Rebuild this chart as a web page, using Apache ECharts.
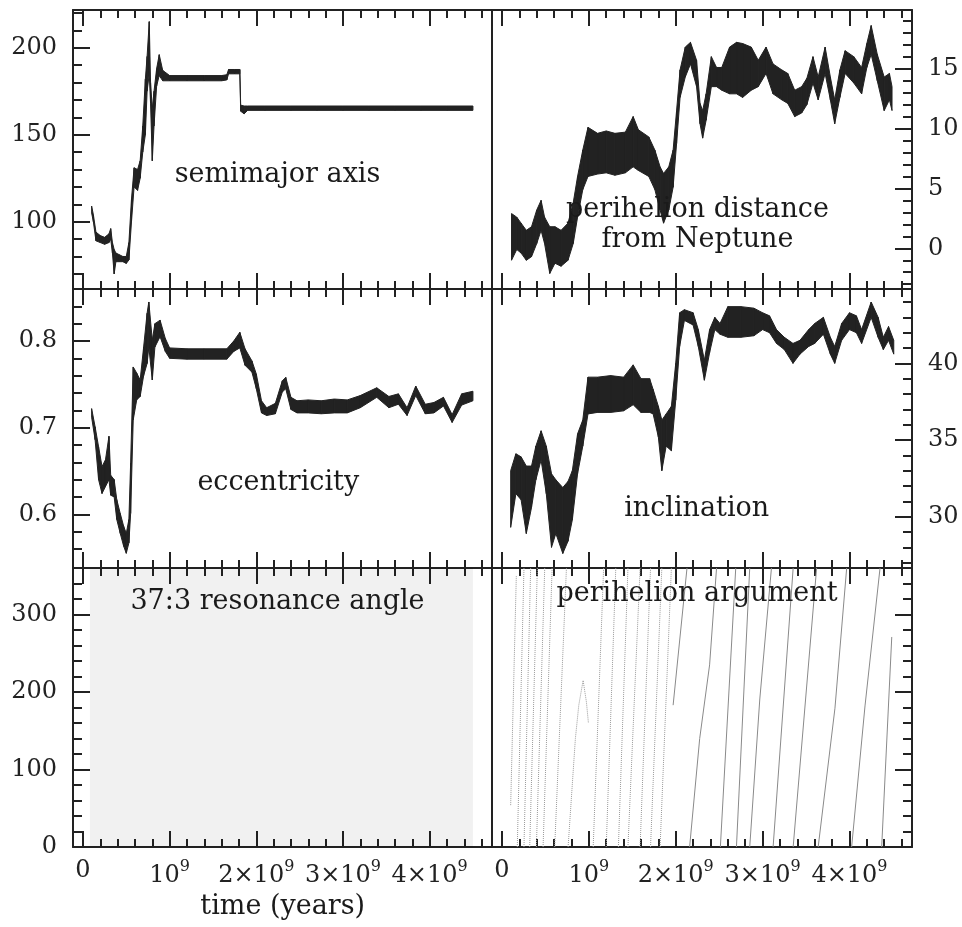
<!DOCTYPE html>
<html>
<head>
<meta charset="utf-8">
<script src="https://cdn.jsdelivr.net/npm/echarts@6.0.0/dist/echarts.min.js"></script>
<style>
  html, body { margin: 0; padding: 0; background: #fff; }
  #main { width: 962px; height: 927px; }
</style>
</head>
<body>
<div id="main"></div>
<script>
  // time is in units of 10^9 years
  var timeMajor = [0, 1, 2, 3, 4];
  var timeMinor = [0.2, 0.4, 0.6, 0.8, 1.2, 1.4, 1.6, 1.8, 2.2, 2.4, 2.6, 2.8, 3.2, 3.4, 3.6, 3.8, 4.2, 4.4, 4.6];

  // semimajor axis (AU): lower / upper edge of the noisy trace
  var semiT = [0.10, 0.12, 0.15, 0.20, 0.25, 0.30, 0.32, 0.34, 0.36, 0.38, 0.42, 0.46, 0.50, 0.53, 0.56, 0.59, 0.63, 0.66, 0.69, 0.72, 0.74, 0.765, 0.78, 0.80, 0.82, 0.85, 0.88, 0.92, 1.00, 1.20, 1.40, 1.60, 1.66, 1.68, 1.75, 1.81, 1.82, 1.86, 1.90, 2.10, 2.40, 2.70, 3.00, 3.30, 3.60, 3.90, 4.20, 4.50];
  var semiLo = [105, 100, 89, 88, 87, 88, 90, 82, 70, 77, 77, 77, 76, 78, 100, 120, 118, 125, 140, 150, 175, 185, 168, 135, 155, 178, 184, 181, 181, 181, 181, 181, 181.5, 185, 185, 185, 163.5, 162, 164, 164, 164, 164, 164, 164, 164, 164, 164, 164];
  var semiHi = [109, 104, 94, 92, 91, 93, 96, 88, 84, 82, 81, 80, 80, 88, 113, 131, 130, 135, 155, 182, 195, 215, 180, 165, 175, 188, 196, 187, 184, 184, 184, 184, 184.5, 187.5, 187.5, 187.5, 167, 166.5, 166.5, 166.5, 166.5, 166.5, 166.5, 166.5, 166.5, 166.5, 166.5, 166.5];
  var semiMajor = [100, 150, 200];
  var semiMinor = [70, 80, 90, 110, 120, 130, 140, 160, 170, 180, 190, 210, 220];

  // perihelion distance from Neptune (AU)
  var periT = [0.11, 0.17, 0.22, 0.28, 0.34, 0.40, 0.45, 0.49, 0.55, 0.61, 0.68, 0.76, 0.82, 0.87, 0.93, 0.99, 1.10, 1.20, 1.30, 1.42, 1.51, 1.57, 1.69, 1.76, 1.82, 1.86, 1.92, 1.97, 2.01, 2.05, 2.11, 2.17, 2.24, 2.28, 2.31, 2.35, 2.41, 2.47, 2.53, 2.62, 2.70, 2.77, 2.87, 2.95, 3.04, 3.12, 3.22, 3.29, 3.37, 3.45, 3.51, 3.58, 3.64, 3.72, 3.78, 3.83, 3.89, 3.95, 4.05, 4.14, 4.20, 4.25, 4.32, 4.40, 4.46, 4.49];
  var periLo = [-1.0, -0.1, -0.4, -1.0, -0.7, 0.4, 1.5, 0.4, -2.1, -1.25, -1.5, -1.0, 0.4, 2.6, 4.9, 6.0, 6.2, 6.3, 6.1, 6.3, 6.8, 6.5, 6.0, 4.9, 3.2, 2.1, 3.2, 5.1, 8.75, 12.6, 14.3, 15.4, 13.5, 10.4, 9.2, 10.7, 13.5, 13.5, 13.2, 12.9, 12.9, 12.6, 13.2, 13.5, 14.6, 12.9, 12.4, 12.1, 11.0, 11.3, 12.0, 13.8, 12.4, 14.6, 12.4, 10.4, 12.6, 14.6, 13.8, 12.9, 15.1, 16.2, 14.0, 11.5, 12.4, 11.5];
  var periHi = [2.9, 2.6, 2.1, 1.5, 1.8, 3.2, 4.0, 2.6, 1.8, 1.8, 1.5, 2.1, 3.8, 6.0, 8.2, 10.1, 9.6, 9.8, 9.6, 9.7, 11.0, 9.9, 9.3, 8.2, 6.8, 6.25, 6.8, 8.2, 11.5, 14.9, 16.8, 17.2, 15.7, 12.1, 11.5, 12.9, 16.0, 15.1, 15.1, 16.8, 17.2, 17.1, 16.8, 15.7, 16.8, 15.4, 14.9, 14.6, 13.2, 13.5, 14.2, 16.0, 14.3, 16.8, 14.3, 12.4, 14.9, 16.5, 16.0, 15.1, 17.1, 18.6, 16.2, 14.3, 14.6, 13.5];
  var periMajor = [0, 5, 10, 15];
  var periMinor = [-3, -2, -1, 1, 2, 3, 4, 6, 7, 8, 9, 11, 12, 13, 14, 16, 17, 18, 19];

  // eccentricity
  var eccT = [0.10, 0.14, 0.18, 0.22, 0.26, 0.30, 0.32, 0.36, 0.39, 0.43, 0.47, 0.50, 0.53, 0.55, 0.58, 0.62, 0.66, 0.70, 0.74, 0.76, 0.80, 0.83, 0.89, 0.95, 1.00, 1.20, 1.40, 1.66, 1.74, 1.81, 1.87, 1.95, 2.00, 2.06, 2.12, 2.22, 2.30, 2.34, 2.40, 2.47, 2.60, 2.75, 2.90, 3.05, 3.20, 3.39, 3.53, 3.64, 3.74, 3.84, 3.95, 4.05, 4.16, 4.26, 4.37, 4.50];
  var eccLo = [0.712, 0.686, 0.640, 0.624, 0.632, 0.640, 0.622, 0.620, 0.594, 0.578, 0.563, 0.555, 0.567, 0.601, 0.709, 0.732, 0.736, 0.760, 0.774, 0.793, 0.755, 0.793, 0.805, 0.788, 0.780, 0.779, 0.779, 0.779, 0.788, 0.792, 0.772, 0.764, 0.745, 0.717, 0.714, 0.716, 0.741, 0.745, 0.721, 0.717, 0.717, 0.716, 0.717, 0.717, 0.723, 0.735, 0.723, 0.727, 0.714, 0.737, 0.716, 0.717, 0.725, 0.706, 0.726, 0.731];
  var eccHi = [0.722, 0.701, 0.678, 0.655, 0.663, 0.690, 0.645, 0.640, 0.617, 0.601, 0.586, 0.578, 0.594, 0.659, 0.770, 0.763, 0.755, 0.793, 0.832, 0.845, 0.801, 0.820, 0.824, 0.803, 0.792, 0.791, 0.791, 0.791, 0.800, 0.810, 0.791, 0.777, 0.762, 0.731, 0.723, 0.728, 0.754, 0.758, 0.735, 0.731, 0.732, 0.731, 0.733, 0.732, 0.737, 0.746, 0.736, 0.739, 0.723, 0.748, 0.727, 0.729, 0.735, 0.715, 0.739, 0.742];
  var eccMajor = [0.6, 0.7, 0.8];
  var eccMinor = [0.56, 0.58, 0.62, 0.64, 0.66, 0.68, 0.72, 0.74, 0.76, 0.78, 0.82, 0.84];

  // inclination (deg)
  var incT = [0.10, 0.16, 0.22, 0.28, 0.34, 0.39, 0.45, 0.51, 0.57, 0.62, 0.70, 0.76, 0.81, 0.87, 0.93, 0.99, 1.10, 1.25, 1.40, 1.51, 1.60, 1.70, 1.74, 1.80, 1.84, 1.89, 1.95, 2.00, 2.045, 2.10, 2.20, 2.26, 2.33, 2.39, 2.45, 2.51, 2.60, 2.75, 2.90, 3.00, 3.08, 3.16, 3.25, 3.35, 3.43, 3.53, 3.60, 3.70, 3.78, 3.83, 3.91, 4.00, 4.08, 4.14, 4.25, 4.33, 4.39, 4.45, 4.51];
  var incLo = [29.3, 31.5, 31.1, 28.9, 30.6, 32.4, 33.7, 31.5, 28.0, 28.9, 27.6, 28.4, 29.8, 32.8, 34.6, 36.7, 36.8, 36.8, 36.9, 37.3, 36.8, 36.8, 36.7, 35.2, 33.0, 34.6, 34.3, 37.6, 41.1, 42.8, 42.5, 41.1, 38.9, 40.7, 42.2, 41.9, 41.7, 41.7, 41.8, 42.2, 42.0, 41.3, 40.9, 40.0, 40.6, 41.1, 41.3, 41.9, 40.6, 40.0, 41.5, 42.2, 42.0, 41.3, 43.0, 41.7, 40.9, 41.5, 40.6];
  var incHi = [33.0, 34.1, 33.9, 33.3, 33.3, 34.6, 35.6, 34.6, 32.8, 32.4, 31.9, 32.3, 33.0, 35.4, 36.3, 39.1, 39.1, 39.2, 39.1, 39.9, 39.0, 39.0, 38.3, 37.2, 36.3, 36.7, 37.2, 40.0, 43.3, 43.5, 43.3, 42.2, 40.2, 42.2, 43.0, 42.6, 43.7, 43.7, 43.6, 43.3, 43.1, 42.2, 41.7, 41.3, 41.5, 42.2, 42.6, 43.0, 41.7, 41.1, 42.6, 43.3, 43.1, 42.2, 44.0, 43.0, 41.7, 42.4, 41.5];
  var incMajor = [30, 35, 40];
  var incMinor = [27, 28, 29, 31, 32, 33, 34, 36, 37, 38, 39, 41, 42, 43, 44];

  // angles (deg)
  var angMajor = [0, 100, 200, 300];
  var angMinor = [20, 40, 60, 80, 120, 140, 160, 180, 220, 240, 260, 280, 320, 340];

  // 37:3 resonance angle fills the whole range (time span, angle span)
  var resSpanT = [0.08, 4.50];
  var resSpanW = [0, 360];

  // perihelion argument: circulation tracks, null separates one sweep from the next
  var argT = [0.10, 0.165, null, 0.176, 0.253, null, 0.253, 0.33, null, 0.319, 0.407, null, 0.396, 0.492, null,
    0.473, 0.577, null, 0.607, 0.742, null, 0.761, 0.845, 0.884, 0.934, 0.972, 0.995, null, 1.05, 1.17, null,
    1.20, 1.31, null, 1.34, 1.45, null, 1.45, 1.59, null, 1.59, 1.71, null, 1.71, 1.84, null, 1.82, 1.95, null,
    1.97, 2.13, null, 2.16, 2.276, 2.39, 2.47, null, 2.514, 2.691, null, 2.699, 2.852, null, 2.852, 2.968, 3.102, null,
    3.121, 3.352, null, 3.352, 3.622, null, 3.64, 3.833, 3.968, null, 4.025, 4.179, 4.352, null, 4.371, 4.487];
  var argW = [54, 350, null, 0, 360, null, 0, 360, null, 0, 360, null, 0, 360, null,
    0, 360, null, 0, 360, null, 0, 140, 183, 215, 187, 160, null, 0, 360, null,
    0, 360, null, 0, 360, null, 0, 360, null, 0, 360, null, 0, 360, null, 0, 360, null,
    183, 360, null, 0, 140, 235, 360, null, 0, 360, null, 0, 360, null, 0, 191, 360, null,
    0, 360, null, 0, 360, null, 0, 179, 360, null, 0, 182, 360, null, 0, 271];

  var FONT = 'DejaVu Serif';
  var INK = '#222';
  var T_MIN = -0.115, T_MAX = 4.72;

  var panels = [
    { left: 73, top: 10, min: 61.3, max: 221.7, major: semiMajor, minor: semiMinor, side: 'left', yLabels: true, xLabels: false },
    { left: 492, top: 10, min: -3.4, max: 19.9, major: periMajor, minor: periMinor, side: 'right', yLabels: true, xLabels: false },
    { left: 73, top: 289, min: 0.538, max: 0.86, major: eccMajor, minor: eccMinor, side: 'left', yLabels: true, xLabels: false },
    { left: 492, top: 289, min: 26.65, max: 44.85, major: incMajor, minor: incMinor, side: 'right', yLabels: true, xLabels: false },
    { left: 73, top: 568, min: 0, max: 360, major: angMajor, minor: angMinor, side: 'left', yLabels: true, xLabels: true },
    { left: 492, top: 568, min: 0, max: 360, major: angMajor, minor: angMinor, side: 'right', yLabels: false, xLabels: true }
  ];

  function timeAxis(grid, pos, ticks, len, labels, line) {
    return {
      type: 'value', gridIndex: grid, position: pos, min: T_MIN, max: T_MAX,
      axisLine: { show: line, onZero: false, lineStyle: { color: INK, width: 2 } },
      axisTick: { show: true, inside: true, length: len, customValues: ticks, lineStyle: { color: INK, width: 2 } },
      axisLabel: {
        show: labels, customValues: ticks, margin: 12,
        formatter: function (v) {
          if (v === 0) return '{z|0}';
          if (v === 1) return '{n|10}{s|9}';
          return '{n|' + v + '×10}{s|9}';
        },
        rich: {
          z: { fontSize: 24, fontFamily: FONT, color: INK, padding: [0, 0, 13, 0] },
          n: { fontSize: 24, fontFamily: FONT, color: INK },
          s: { fontSize: 16, fontFamily: FONT, color: INK, padding: [0, 0, 18, 0] }
        }
      },
      splitLine: { show: false }
    };
  }

  function valueAxis(grid, pos, p, ticks, len, labels, line) {
    return {
      type: 'value', gridIndex: grid, position: pos, min: p.min, max: p.max,
      axisLine: { show: line, onZero: false, lineStyle: { color: INK, width: 2 } },
      axisTick: { show: ticks.length > 0, inside: true, length: len, customValues: ticks, lineStyle: { color: INK, width: 2 } },
      axisLabel: { show: labels, customValues: ticks, margin: 16, fontSize: 24, fontFamily: FONT, color: INK },
      splitLine: { show: false }
    };
  }

  var grids = [], xAxes = [], yAxes = [], series = [], panelAxis = [];

  panels.forEach(function (p) {
    var w = p.left === 73 ? 419 : 420;
    var g = grids.length;
    grids.push({ left: p.left, top: p.top, width: w, height: 279 });
    grids.push({ left: p.left, top: p.top, width: w, height: 279 });
    var xi = xAxes.length, yi = yAxes.length;
    xAxes.push(timeAxis(g, 'bottom', timeMajor, 16, p.xLabels, true));
    xAxes.push(timeAxis(g, 'top', timeMajor, 16, false, true));
    xAxes.push(timeAxis(g + 1, 'bottom', timeMinor, 8, false, false));
    xAxes.push(timeAxis(g + 1, 'top', timeMinor, 8, false, false));
    yAxes.push(valueAxis(g, p.side, p, p.major, 17, p.yLabels, true));
    yAxes.push(valueAxis(g, p.side === 'left' ? 'right' : 'left', p, [], 0, false, true));
    yAxes.push(valueAxis(g + 1, p.side, p, p.minor, 9, false, false));
    panelAxis.push({ x: xi, y: yi });
  });

  // noisy trace drawn as the band between its lower and upper edge,
  // one quad per pair of neighbouring samples, placed through api.coord
  function band(pi, T, lo, hi) {
    var ax = panelAxis[pi];
    var rows = [];
    for (var k = 0; k < T.length - 1; k++) {
      rows.push([T[k], lo[k], hi[k], T[k + 1], lo[k + 1], hi[k + 1]]);
    }
    series.push({
      type: 'custom', xAxisIndex: ax.x, yAxisIndex: ax.y, silent: true,
      data: rows,
      encode: { x: [0, 3], y: [1, 2, 4, 5] },
      renderItem: function (params, api) {
        var a = api.coord([api.value(0), api.value(1)]);
        var b = api.coord([api.value(3), api.value(4)]);
        var c = api.coord([api.value(3), api.value(5)]);
        var d = api.coord([api.value(0), api.value(2)]);
        return {
          type: 'polygon',
          shape: { points: [a, b, c, d] },
          style: { fill: INK, stroke: INK, lineWidth: 1 }
        };
      }
    });
  }

  band(0, semiT, semiLo, semiHi);
  band(1, periT, periLo, periHi);
  band(2, eccT, eccLo, eccHi);
  band(3, incT, incLo, incHi);

  // resonance angle: points fill the panel evenly
  series.push({
    type: 'line', xAxisIndex: panelAxis[4].x, yAxisIndex: panelAxis[4].y,
    symbol: 'none', silent: true,
    data: resSpanT.map(function (t) { return [t, resSpanW[1]]; }),
    lineStyle: { width: 0 },
    areaStyle: { origin: 'start', color: 'rgba(0,0,0,0.08)' }
  });

  // perihelion argument sweeps
  var seg = [];
  function flush() {
    if (seg.length > 1) {
      var early = seg[0][0] < 1.96;
      series.push({
        type: 'line', xAxisIndex: panelAxis[5].x, yAxisIndex: panelAxis[5].y,
        symbol: 'none', silent: true, data: seg,
        lineStyle: { color: early ? '#9a9a9a' : '#8a8a8a', width: 1, type: early ? 'dotted' : 'solid' }
      });
    }
    seg = [];
  }
  argT.forEach(function (t, k) {
    if (t === null) { flush(); } else { seg.push([t, argW[k]]); }
  });
  flush();

  var notes = [
    { text: 'semimajor axis', x: 277.5, y: 175 },
    { text: 'perihelion distance', x: 697.5, y: 210 },
    { text: 'from Neptune', x: 697.5, y: 240 },
    { text: 'eccentricity', x: 278.3, y: 483 },
    { text: 'inclination', x: 696.7, y: 509 },
    { text: '37:3 resonance angle', x: 277.5, y: 602 },
    { text: 'perihelion argument', x: 697, y: 594 },
    { text: 'time (years)', x: 282.7, y: 907 }
  ];

  var chart = echarts.init(document.getElementById('main'));
  chart.setOption({
    animation: false,
    backgroundColor: '#fff',
    grid: grids,
    xAxis: xAxes,
    yAxis: yAxes,
    series: series,
    graphic: notes.map(function (n) {
      return {
        type: 'text', x: n.x, y: n.y, z: 100,
        style: { text: n.text, fontSize: 27, fontFamily: FONT, fill: '#1a1a1a', align: 'center', verticalAlign: 'middle' }
      };
    })
  });
</script>
</body>
</html>
